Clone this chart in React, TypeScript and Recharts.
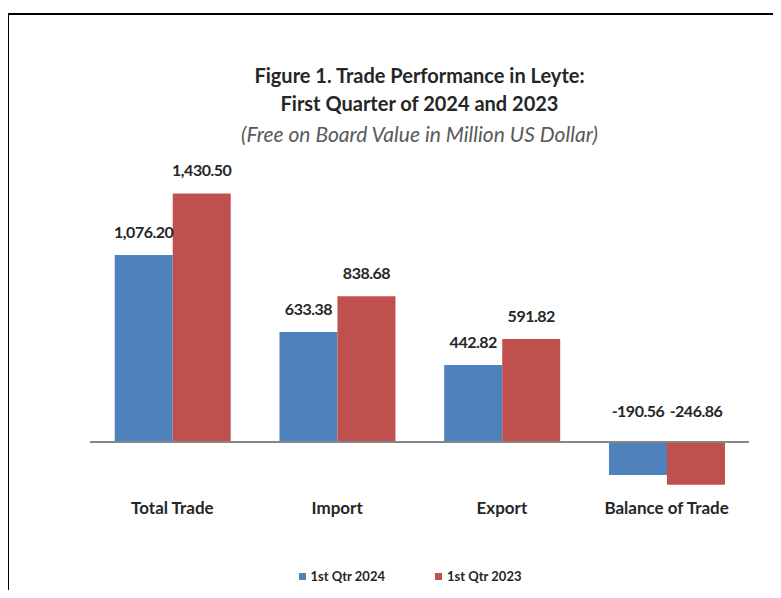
import { Bar, BarChart, LabelList, ReferenceLine, XAxis, YAxis } from 'recharts';

const categories = ['Total Trade', 'Import', 'Export', 'Balance of Trade'];
const seriesNames = ['1st Qtr 2024', '1st Qtr 2023'];
const q1_2024 = [1076.2, 633.38, 442.82, -190.56];
const q1_2023 = [1430.5, 838.68, 591.82, -246.86];
const seriesColors = ['#4F81BD', '#C0504D'];

const data = categories.map((name, i) => ({ name, q2024: q1_2024[i], q2023: q1_2023[i] }));

const FONT = "Lato, 'Liberation Sans', sans-serif";

const fmt = (v: number) =>
  v.toLocaleString('en-US', { minimumFractionDigits: 2, maximumFractionDigits: 2 });

// label sits above the bar top, or above the zero line when the value is negative
function ValueLabel(props: any) {
  const { x, y, width, height, value } = props;
  const top = Math.min(y, y + height);
  const lift = value < 0 ? 25 : 17;
  return (
    <text
      x={x + width / 2}
      y={top - lift}
      textAnchor="middle"
      fontFamily={FONT}
      fontSize={16}
      fontWeight={700}
      letterSpacing={-0.5}
      fill="#262626"
    >
      {fmt(value)}
    </text>
  );
}

export default function App() {
  return (
    <div style={{ position: 'relative', width: 781, height: 598, margin: -8, background: '#fff', overflow: 'hidden', fontFamily: FONT }}>
      <div
        style={{
          position: 'absolute',
          left: 7,
          top: 13,
          width: 800,
          height: 620,
          borderLeft: '2px solid #000',
          borderTop: '2px solid #000',
        }}
      />
      <div style={{ position: 'absolute', top: 61, left: 0, width: 839, textAlign: 'center', fontSize: 20, fontWeight: 700, color: '#262626', lineHeight: '28px' }}>
        <div>Figure 1. Trade Performance in Leyte:</div>
        <div>First Quarter of 2024 and 2023</div>
      </div>
      <div style={{ position: 'absolute', top: 121, left: 0, width: 839, textAlign: 'center', fontSize: 21, fontStyle: 'italic', color: '#595959' }}>
        (Free on Board Value in Million US Dollar)
      </div>
      <BarChart
        width={781}
        height={598}
        data={data}
        margin={{ top: 164, right: 32, bottom: 74, left: 90 }}
        barCategoryGap="15%"
        barGap={0}
      >
        <XAxis
          dataKey="name"
          axisLine={false}
          tickLine={false}
          tick={{ fontFamily: FONT, fontSize: 17, fontWeight: 700, fill: '#262626' }}
        />
        <YAxis hide domain={[-300, 1600]} />
        <ReferenceLine y={0} stroke="#868686" strokeWidth={2} />
        <Bar dataKey="q2024" name={seriesNames[0]} fill={seriesColors[0]} isAnimationActive={false}>
          <LabelList dataKey="q2024" content={ValueLabel} />
        </Bar>
        <Bar dataKey="q2023" name={seriesNames[1]} fill={seriesColors[1]} isAnimationActive={false}>
          <LabelList dataKey="q2023" content={ValueLabel} />
        </Bar>
      </BarChart>
      <div style={{ position: 'absolute', top: 568, left: 0, width: 820, display: 'flex', justifyContent: 'center', gap: 50, fontSize: 13, fontWeight: 700, color: '#262626' }}>
        {seriesNames.map((n, i) => (
          <span key={n} style={{ display: 'flex', alignItems: 'center', gap: 5 }}>
            <span style={{ width: 7, height: 7, background: seriesColors[i], display: 'inline-block' }} />
            {n}
          </span>
        ))}
      </div>
    </div>
  );
}
